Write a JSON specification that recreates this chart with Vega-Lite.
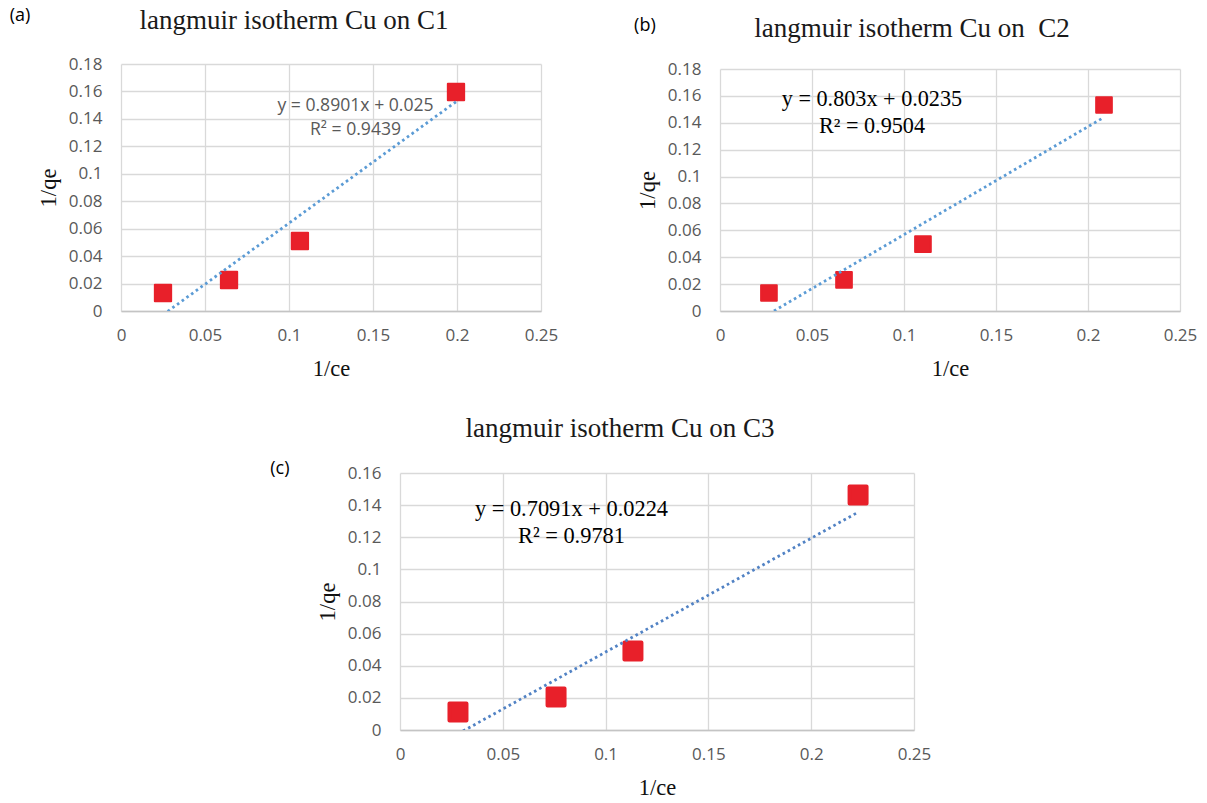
{
  "$schema": "https://vega.github.io/schema/vega-lite/v6.json",
  "background": "white",
  "padding": {"left": 9, "top": 5, "right": 5, "bottom": 5},
  "datasets": {
    "points": [
      {"panel": "a", "ce_inv": 0.025, "qe_inv": 0.0131},
      {"panel": "a", "ce_inv": 0.0643, "qe_inv": 0.0226},
      {"panel": "a", "ce_inv": 0.1065, "qe_inv": 0.051},
      {"panel": "a", "ce_inv": 0.1994, "qe_inv": 0.1596},
      {"panel": "b", "ce_inv": 0.0266, "qe_inv": 0.0134},
      {"panel": "b", "ce_inv": 0.0674, "qe_inv": 0.0231},
      {"panel": "b", "ce_inv": 0.1103, "qe_inv": 0.0498},
      {"panel": "b", "ce_inv": 0.2087, "qe_inv": 0.1532},
      {"panel": "c", "ce_inv": 0.0282, "qe_inv": 0.0112},
      {"panel": "c", "ce_inv": 0.0759, "qe_inv": 0.0205},
      {"panel": "c", "ce_inv": 0.1133, "qe_inv": 0.0492},
      {"panel": "c", "ce_inv": 0.2228, "qe_inv": 0.1463}
    ],
    "trend": [
      {"panel": "a", "ce_inv": 0.025, "qe_inv": -0.00275},
      {"panel": "a", "ce_inv": 0.1994, "qe_inv": 0.15248},
      {"panel": "b", "ce_inv": 0.0266, "qe_inv": -0.00214},
      {"panel": "b", "ce_inv": 0.2087, "qe_inv": 0.14409},
      {"panel": "c", "ce_inv": 0.0282, "qe_inv": -0.0024},
      {"panel": "c", "ce_inv": 0.2228, "qe_inv": 0.13559}
    ],
    "notes": [
      {"panel": "a", "tag": "(a)", "eq": ["y = 0.8901x + 0.025", "R² = 0.9439"]},
      {"panel": "b", "tag": "(b)", "eq": ["y = 0.803x + 0.0235", "R² = 0.9504"]},
      {"panel": "c", "tag": "(c)", "eq": ["y = 0.7091x + 0.0224", "R² = 0.9781"]}
    ]
  },
  "vconcat": [
    {
      "hconcat": [
        {
          "spacing": 0,
          "vconcat": [
            {"width": 420, "height": 1, "data": {"values": []}, "mark": "point"},
            {
              "width": 420,
              "height": 247,
              "title": {"text": "langmuir isotherm Cu on C1", "dx": -37, "offset": -28},
              "layer": [
                {
                  "data": {"name": "points"},
                  "transform": [{"filter": "datum.panel == 'a'"}],
                  "mark": {"type": "point", "shape": "square", "filled": true, "fill": "#e8202a", "stroke": "#e8202a", "strokeWidth": 2, "strokeJoin": "round", "size": 266, "opacity": 1},
                  "encoding": {
                    "x": {"field": "ce_inv", "type": "quantitative", "scale": {"domain": [0, 0.25]}, "axis": {"values": [0, 0.05, 0.1, 0.15, 0.2, 0.25], "title": "1/ce"}},
                    "y": {"field": "qe_inv", "type": "quantitative", "scale": {"domain": [0, 0.18]}, "axis": {"values": [0, 0.02, 0.04, 0.06, 0.08, 0.1, 0.12, 0.14, 0.16, 0.18], "title": "1/qe"}}
                  }
                },
                {
                  "data": {"name": "trend"},
                  "transform": [{"filter": "datum.panel == 'a'"}],
                  "mark": {"type": "line", "color": "#5b9bd5", "strokeWidth": 2.8, "strokeDash": [2.6, 3.2], "clip": true},
                  "encoding": {
                    "x": {"field": "ce_inv", "type": "quantitative", "scale": {"domain": [0, 0.25]}, "axis": {"values": [0, 0.05, 0.1, 0.15, 0.2, 0.25], "title": "1/ce"}},
                    "y": {"field": "qe_inv", "type": "quantitative", "scale": {"domain": [0, 0.18]}, "axis": {"values": [0, 0.02, 0.04, 0.06, 0.08, 0.1, 0.12, 0.14, 0.16, 0.18], "title": "1/qe"}}
                  }
                },
                {
                  "data": {"name": "notes"},
                  "transform": [{"filter": "datum.panel == 'a'"}],
                  "mark": {"type": "text", "font": "Open Sans", "fontSize": 18, "color": "#000000", "align": "center", "baseline": "middle"},
                  "encoding": {
                    "x": {"datum": -0.0601, "type": "quantitative", "scale": {"domain": [0, 0.25]}, "axis": {"values": [0, 0.05, 0.1, 0.15, 0.2, 0.25], "title": "1/ce"}},
                    "y": {"datum": 0.215, "type": "quantitative", "scale": {"domain": [0, 0.18]}, "axis": {"values": [0, 0.02, 0.04, 0.06, 0.08, 0.1, 0.12, 0.14, 0.16, 0.18], "title": "1/qe"}},
                    "text": {"field": "tag"}
                  }
                },
                {
                  "data": {"name": "notes"},
                  "transform": [{"filter": "datum.panel == 'a'"}],
                  "mark": {"type": "text", "font": "Open Sans", "fontSize": 17.6, "color": "#595959", "align": "center", "baseline": "middle", "lineHeight": 24},
                  "encoding": {
                    "x": {"datum": 0.1396, "type": "quantitative", "scale": {"domain": [0, 0.25]}, "axis": {"values": [0, 0.05, 0.1, 0.15, 0.2, 0.25], "title": "1/ce"}},
                    "y": {"datum": 0.1494, "type": "quantitative", "scale": {"domain": [0, 0.18]}, "axis": {"values": [0, 0.02, 0.04, 0.06, 0.08, 0.1, 0.12, 0.14, 0.16, 0.18], "title": "1/qe"}},
                    "text": {"field": "eq"}
                  }
                }
              ]
            }
          ]
        },
        {
          "spacing": 0,
          "vconcat": [
            {"width": 460, "height": 9, "data": {"values": []}, "mark": "point"},
            {
              "width": 460,
              "height": 242,
              "title": {"text": "langmuir isotherm Cu on\u00a0 C2", "dx": -38, "offset": -26},
              "layer": [
                {
                  "data": {"name": "points"},
                  "transform": [{"filter": "datum.panel == 'b'"}],
                  "mark": {"type": "point", "shape": "square", "filled": true, "fill": "#e8202a", "stroke": "#e8202a", "strokeWidth": 2, "strokeJoin": "round", "size": 246, "opacity": 1},
                  "encoding": {
                    "x": {"field": "ce_inv", "type": "quantitative", "scale": {"domain": [0, 0.25]}, "axis": {"values": [0, 0.05, 0.1, 0.15, 0.2, 0.25], "title": "1/ce"}},
                    "y": {"field": "qe_inv", "type": "quantitative", "scale": {"domain": [0, 0.18]}, "axis": {"values": [0, 0.02, 0.04, 0.06, 0.08, 0.1, 0.12, 0.14, 0.16, 0.18], "title": "1/qe"}}
                  }
                },
                {
                  "data": {"name": "trend"},
                  "transform": [{"filter": "datum.panel == 'b'"}],
                  "mark": {"type": "line", "color": "#5b9bd5", "strokeWidth": 2.8, "strokeDash": [2.6, 3.2], "clip": true},
                  "encoding": {
                    "x": {"field": "ce_inv", "type": "quantitative", "scale": {"domain": [0, 0.25]}, "axis": {"values": [0, 0.05, 0.1, 0.15, 0.2, 0.25], "title": "1/ce"}},
                    "y": {"field": "qe_inv", "type": "quantitative", "scale": {"domain": [0, 0.18]}, "axis": {"values": [0, 0.02, 0.04, 0.06, 0.08, 0.1, 0.12, 0.14, 0.16, 0.18], "title": "1/qe"}}
                  }
                },
                {
                  "data": {"name": "notes"},
                  "transform": [{"filter": "datum.panel == 'b'"}],
                  "mark": {"type": "text", "font": "Open Sans", "fontSize": 18, "color": "#000000", "align": "center", "baseline": "middle"},
                  "encoding": {
                    "x": {"datum": -0.0408, "type": "quantitative", "scale": {"domain": [0, 0.25]}, "axis": {"values": [0, 0.05, 0.1, 0.15, 0.2, 0.25], "title": "1/ce"}},
                    "y": {"datum": 0.212, "type": "quantitative", "scale": {"domain": [0, 0.18]}, "axis": {"values": [0, 0.02, 0.04, 0.06, 0.08, 0.1, 0.12, 0.14, 0.16, 0.18], "title": "1/qe"}},
                    "text": {"field": "tag"}
                  }
                },
                {
                  "data": {"name": "notes"},
                  "transform": [{"filter": "datum.panel == 'b'"}],
                  "mark": {"type": "text", "font": "Liberation Serif", "fontSize": 22.2, "color": "#000000", "align": "center", "baseline": "middle", "lineHeight": 27},
                  "encoding": {
                    "x": {"datum": 0.0826, "type": "quantitative", "scale": {"domain": [0, 0.25]}, "axis": {"values": [0, 0.05, 0.1, 0.15, 0.2, 0.25], "title": "1/ce"}},
                    "y": {"datum": 0.158, "type": "quantitative", "scale": {"domain": [0, 0.18]}, "axis": {"values": [0, 0.02, 0.04, 0.06, 0.08, 0.1, 0.12, 0.14, 0.16, 0.18], "title": "1/qe"}},
                    "text": {"field": "eq"}
                  }
                }
              ]
            }
          ]
        }
      ],
      "spacing": 76
    },
    {
      "spacing": 0,
      "hconcat": [
        {"width": 149, "height": 1, "data": {"values": []}, "mark": "point"},
        {
          "width": 514,
          "height": 257,
          "title": {"text": "langmuir isotherm Cu on C3", "dx": -37, "offset": 17},
          "layer": [
            {
              "data": {"name": "points"},
              "transform": [{"filter": "datum.panel == 'c'"}],
              "mark": {"type": "point", "shape": "square", "filled": true, "fill": "#e8202a", "stroke": "#e8202a", "strokeWidth": 4, "strokeJoin": "round", "size": 289, "opacity": 1},
              "encoding": {
                "x": {"field": "ce_inv", "type": "quantitative", "scale": {"domain": [0, 0.25]}, "axis": {"values": [0, 0.05, 0.1, 0.15, 0.2, 0.25], "title": "1/ce"}},
                "y": {"field": "qe_inv", "type": "quantitative", "scale": {"domain": [0, 0.16]}, "axis": {"values": [0, 0.02, 0.04, 0.06, 0.08, 0.1, 0.12, 0.14, 0.16], "title": "1/qe"}}
              }
            },
            {
              "data": {"name": "trend"},
              "transform": [{"filter": "datum.panel == 'c'"}],
              "mark": {"type": "line", "color": "#5182c4", "strokeWidth": 2.8, "strokeDash": [2.6, 3.2], "clip": true},
              "encoding": {
                "x": {"field": "ce_inv", "type": "quantitative", "scale": {"domain": [0, 0.25]}, "axis": {"values": [0, 0.05, 0.1, 0.15, 0.2, 0.25], "title": "1/ce"}},
                "y": {"field": "qe_inv", "type": "quantitative", "scale": {"domain": [0, 0.16]}, "axis": {"values": [0, 0.02, 0.04, 0.06, 0.08, 0.1, 0.12, 0.14, 0.16], "title": "1/qe"}}
              }
            },
            {
              "data": {"name": "notes"},
              "transform": [{"filter": "datum.panel == 'c'"}],
              "mark": {"type": "text", "font": "Open Sans", "fontSize": 18, "color": "#000000", "align": "center", "baseline": "middle"},
              "encoding": {
                "x": {"datum": -0.0584, "type": "quantitative", "scale": {"domain": [0, 0.25]}, "axis": {"values": [0, 0.05, 0.1, 0.15, 0.2, 0.25], "title": "1/ce"}},
                "y": {"datum": 0.1625, "type": "quantitative", "scale": {"domain": [0, 0.16]}, "axis": {"values": [0, 0.02, 0.04, 0.06, 0.08, 0.1, 0.12, 0.14, 0.16], "title": "1/qe"}},
                "text": {"field": "tag"}
              }
            },
            {
              "data": {"name": "notes"},
              "transform": [{"filter": "datum.panel == 'c'"}],
              "mark": {"type": "text", "font": "Liberation Serif", "fontSize": 22.4, "color": "#000000", "align": "center", "baseline": "middle", "lineHeight": 27},
              "encoding": {
                "x": {"datum": 0.0834, "type": "quantitative", "scale": {"domain": [0, 0.25]}, "axis": {"values": [0, 0.05, 0.1, 0.15, 0.2, 0.25], "title": "1/ce"}},
                "y": {"datum": 0.1373, "type": "quantitative", "scale": {"domain": [0, 0.16]}, "axis": {"values": [0, 0.02, 0.04, 0.06, 0.08, 0.1, 0.12, 0.14, 0.16], "title": "1/qe"}},
                "text": {"field": "eq"}
              }
            }
          ]
        }
      ]
    }
  ],
  "spacing": 34,
  "config": {
    "view": {"stroke": null},
    "title": {"font": "Liberation Serif", "fontSize": 27, "fontWeight": "normal", "color": "#1a1a1a"},
    "axis": {
      "grid": true,
      "gridColor": "#d9d9d9",
      "gridWidth": 1.3,
      "ticks": false,
      "domain": false,
      "labelFont": "Open Sans",
      "labelFontSize": 17,
      "labelColor": "#595959",
      "titleFont": "Liberation Serif",
      "titleFontSize": 22.5,
      "titleFontWeight": "normal",
      "titleColor": "#111111",
      "format": "~g"
    },
    "axisX": {"domain": true, "domainColor": "#c4c4c4", "domainWidth": 1.3, "labelPadding": 16, "titlePadding": 14, "labelFlush": false},
    "axisY": {"labelPadding": 19, "titlePadding": 8}
  }
}
